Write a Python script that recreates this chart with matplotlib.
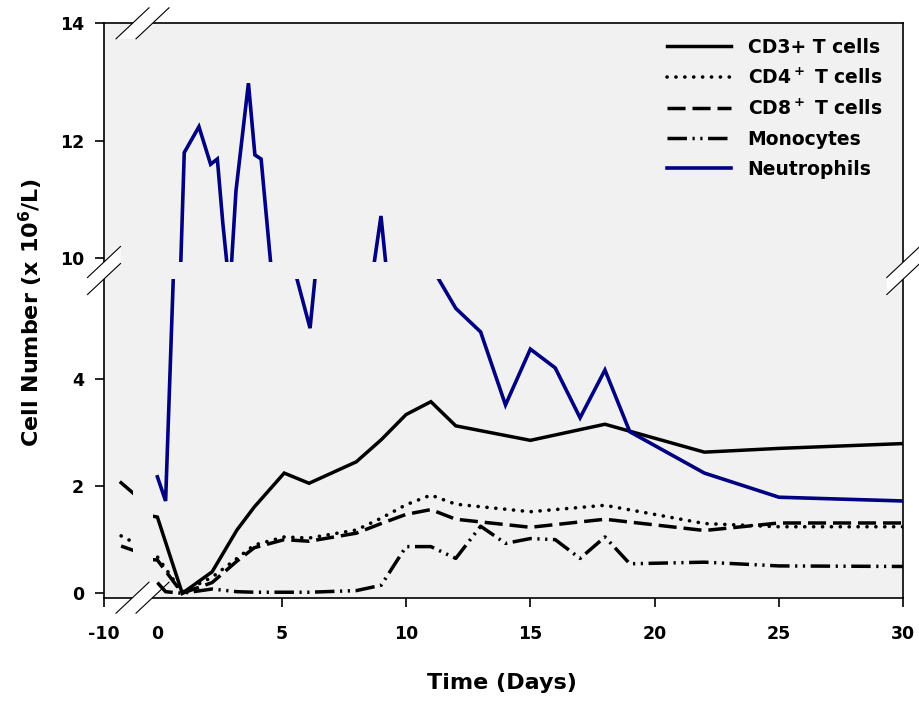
import matplotlib.pyplot as plt
from matplotlib.patches import Polygon
from matplotlib.lines import Line2D

# ---- data ----
t_cells_days = [-7, 0, 1, 2.2, 3.2, 3.9, 5.1, 6.1, 8, 9, 10, 11, 12, 15, 18, 22, 25, 30]
cd3 = [2.06, 1.42, 0.0, 0.40, 1.18, 1.61, 2.24, 2.05, 2.45, 2.86, 3.33, 3.57, 3.12, 2.85, 3.15, 2.63, 2.70, 2.79]
cd4 = [1.07, 0.68, 0.02, 0.30, 0.65, 0.90, 1.05, 1.03, 1.18, 1.40, 1.65, 1.83, 1.66, 1.52, 1.64, 1.30, 1.24, 1.24]
cd8 = [0.88, 0.62, 0.0, 0.20, 0.60, 0.85, 1.00, 0.97, 1.12, 1.30, 1.47, 1.56, 1.38, 1.23, 1.38, 1.17, 1.31, 1.31]

mono_days = [0, 0.33, 1, 2.2, 3.2, 3.9, 5.1, 6.1, 8, 9, 10, 11, 12, 13, 14, 15, 16, 17, 18, 19, 22, 25, 30]
mono = [0.20, 0.03, 0.0, 0.08, 0.03, 0.02, 0.02, 0.02, 0.05, 0.15, 0.87, 0.87, 0.65, 1.25, 0.93, 1.02,
        1.00, 0.65, 1.05, 0.55, 0.58, 0.51, 0.50]

neut_days = [0, 0.33, 1.08, 1.67, 2.14, 2.41, 2.63, 2.91, 3.16, 3.66, 3.92, 4.17, 5.33, 6.14, 6.58,
             8.23, 8.99, 9.52, 10, 11, 12, 13, 14, 15, 16, 17, 18, 19, 22, 25, 30]
neut = [2.17, 1.72, 11.80, 12.24, 11.60, 11.69, 10.60, 9.43, 11.15, 12.98, 11.76, 11.69, 6.35, 4.94, 7.0,
        8.5, 10.72, 8.5, 7.5, 6.1, 5.31, 4.87, 3.51, 4.55, 4.20, 3.27, 4.16, 3.01, 2.24, 1.79, 1.72]

labels = ['CD3+ T cells', 'CD4$^+$ T cells', 'CD8$^+$ T cells', 'Monocytes', 'Neutrophils']

plt.rcParams['font.family'] = 'DejaVu Sans'
plt.rcParams['font.weight'] = 'bold'
plt.rcParams['mathtext.default'] = 'bf'
plt.rcParams['lines.scale_dashes'] = False
plt.rcParams['axes.unicode_minus'] = False

W, H = 919, 702
fig = plt.figure(figsize=(W / 100, H / 100), dpi=100)


def fx(x):
    return x / W


def fy(y):
    return 1 - y / H


def rect(xa, xb, ya, yb):
    return [fx(xa), fy(yb), (xb - xa) / W, (yb - ya) / H]


# pixel layout
X0, XG0, XG1, X1 = 104, 132.5, 152.5, 903.3
Y0, YGU, YGL, Y1 = 23.3, 262, 279, 597.7

bg = fig.add_axes(rect(X0, X1, Y0, Y1), zorder=0)
bg.set_facecolor('#f1f1f1')
bg.set_xticks([])
bg.set_yticks([])
for s in bg.spines.values():
    s.set_linewidth(1.2)

# axis scales (pixel based)
day0, ppd = 157.4, 24.87
v0, ppv = 593.3, 53.67
v10, ppu = 258.3, 58.75
xl_left = (-10, -5)
xl_right = ((XG1 - day0) / ppd, (X1 - day0) / ppd)
yl_low = ((v0 - Y1) / ppv, (v0 - YGL) / ppv)
yl_up = (10 - (YGU - v10) / ppu, 10 + (v10 - Y0) / ppu)

styles = [
    dict(color='black', lw=2.5, ls='-'),
    dict(color='black', lw=2.6, ls=(0, (0.1, 6.3)), dash_capstyle='round'),
    dict(color='black', lw=2.5, ls=(0, (13, 5))),
    dict(color='black', lw=2.5, ls=(0, (14, 4, 1.6, 4, 1.6, 4))),
    dict(color='#000080', lw=2.6, ls='-'),
]
series = [(t_cells_days, cd3), (t_cells_days, cd4), (t_cells_days, cd8), (mono_days, mono), (neut_days, neut)]

axes = {}
for key, (xa, xb, xlim) in {'L': (X0, XG0, xl_left), 'R': (XG1, X1, xl_right)}.items():
    for key2, (ya, yb, ylim) in {'U': (Y0, YGU, yl_up), 'D': (YGL, Y1, yl_low)}.items():
        ax = fig.add_axes(rect(xa, xb, ya, yb), zorder=2)
        ax.set_facecolor('none')
        for s in ax.spines.values():
            s.set_visible(False)
        for (d, v), st, lab in zip(series, styles, labels):
            ax.plot(d, v, label=lab, solid_joinstyle='miter', **st)
        ax.set_xlim(*xlim)
        ax.set_ylim(*ylim)
        ax.set_xticks([])
        ax.set_yticks([])
        ax.tick_params(direction='out', length=6.5, width=1.2, labelsize=12.5)
        axes[key + key2] = ax

axes['LD'].set_yticks([0, 2, 4])
axes['LU'].set_yticks([10, 12, 14])
axes['LD'].set_xticks([-10])
axes['RD'].set_xticks([0, 5, 10, 15, 20, 25, 30])
axes['RD'].xaxis.get_major_ticks()[0].tick1line.set_visible(False)
for a in (axes['LD'], axes['LU']):
    a.tick_params(axis='y', pad=8)
for a in (axes['LD'], axes['RD']):
    a.tick_params(axis='x', pad=13)

fig.text(fx(502), fy(683), 'Time (Days)', ha='center', va='center', fontsize=16)
fig.text(fx(31), fy(312), 'Cell Number (x 10$^6$/L)', ha='center', va='center',
         rotation=90, fontsize=16)

h, l = axes['RD'].get_legend_handles_labels()
axes['RU'].legend(h, l, loc='upper left', bbox_to_anchor=(fx(667), fy(38)),
                  bbox_transform=fig.transFigure, frameon=False, fontsize=13.5,
                  handlelength=3.4, handletextpad=0.9, labelspacing=0.58,
                  borderpad=0, borderaxespad=0)


# break marks: white band between two slashes, under the data lines
def brk(cx, cy, cx2, cy2):
    dx, dy = 16.5, 15.5
    pts = [(cx - dx, cy + dy), (cx + dx, cy - dy), (cx2 + dx, cy2 - dy), (cx2 - dx, cy2 + dy)]
    fig.add_artist(Polygon([(fx(a), fy(b)) for a, b in pts], closed=True, transform=fig.transFigure,
                           facecolor='white', edgecolor='none', zorder=1))
    for (a, b) in ((cx, cy), (cx2, cy2)):
        fig.add_artist(Line2D([fx(a - dx), fx(a + dx)], [fy(b + dy), fy(b - dy)],
                              transform=fig.transFigure, color='black', lw=0.8, zorder=3))


brk(X0, YGU, X0, YGL)
brk(X1, YGU, X1, YGL)
brk(XG0, Y1, XG1, Y1)
brk(XG0, Y0, XG1, Y0)

fig.savefig('out.png', dpi=100)
